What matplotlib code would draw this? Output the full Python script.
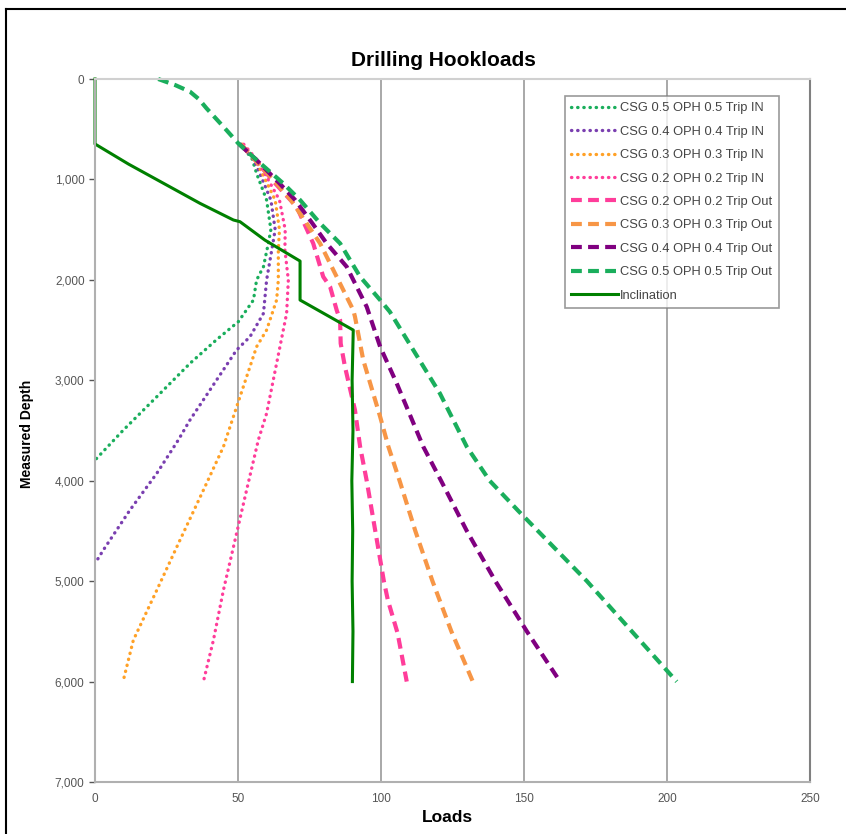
import matplotlib.pyplot as plt
from matplotlib import font_manager
from matplotlib.lines import Line2D
from matplotlib.ticker import FuncFormatter

plt.rcParams["font.family"] = ["Liberation Sans", "DejaVu Sans"]

# --- Hookload curves: depth (ft) and load values ---
# Trip in (dotted)
depth_in_05 = [650, 800, 940, 1205, 1500, 1637, 1869, 2002, 2201, 2417, 2596, 2832, 3164, 3496, 3795]
load_in_05 = [51, 55, 56.5, 60, 61.5, 60.6, 58.9, 56.5, 55.4, 50.1, 42.5, 33.2, 21.6, 9.9, 0]

depth_in_04 = [650, 800, 1000, 1205, 1500, 1703, 2002, 2334, 2566, 2699, 2998, 3396, 3596, 3927, 4293, 4691, 4824]
load_in_04 = [51, 55.5, 58.5, 61.5, 63, 61.8, 60, 58.9, 54.2, 49.5, 42.5, 33.2, 29.1, 21.6, 12.2, 2.9, 0]

depth_in_03 = [650, 800, 1000, 1205, 1500, 1703, 2002, 2201, 2500, 2666, 3164, 3662, 4094, 4592, 5090, 5588, 6000]
load_in_03 = [51.5, 56, 59.5, 63, 64.5, 64.1, 64.1, 63.5, 60, 56.5, 50.7, 44.9, 37.9, 29.7, 21.6, 13.4, 9.8]

depth_in_02 = [650, 800, 1000, 1205, 1500, 1703, 2002, 2334, 2832, 3330, 3596, 4094, 4525, 5090, 5588, 6000]
load_in_02 = [52, 56.5, 60.5, 64.5, 66.5, 66.4, 67.6, 67, 63.5, 60, 57.1, 53, 49.5, 44.9, 41.4, 37.9]

# Trip out (dashed)
depth_out_02 = [650, 807, 1039, 1272, 1637, 1969, 2068, 2301, 2400, 2633, 2865, 3297, 3662, 4000, 4500, 5000, 5189, 5518, 6000]
load_out_02 = [51, 56, 63, 70.5, 76.3, 79.8, 82.2, 84.5, 85.7, 85.9, 87.4, 90.9, 92.7, 95, 98, 101, 102.4, 105.8, 109]

depth_out_03 = [650, 807, 1039, 1205, 1437, 1637, 1969, 2301, 2367, 2799, 3363, 3662, 4000, 4500, 5000, 5500, 6000]
load_out_03 = [51, 56, 63.5, 68.5, 74, 78.7, 84.5, 90.3, 90.9, 93.8, 99.7, 102.6, 106.5, 112, 118, 124.6, 132.1]

depth_out_04 = [650, 807, 1039, 1205, 1437, 1637, 1869, 2268, 2666, 3031, 3662, 4000, 4500, 5000, 5500, 6000]
load_out_04 = [50.5, 56.5, 64.5, 70, 76, 81, 88, 95, 99.7, 105.5, 114.8, 121, 130, 140, 151, 162.6]

depth_out_05 = [0, 60, 126, 200, 292, 475, 641, 807, 1039, 1205, 1437, 1637, 1969, 2201, 2318, 2699, 3131, 3662, 4000, 4300, 5000, 6000]
load_out_05 = [22.1, 28, 33.2, 36.3, 39, 44.9, 50.1, 56.5, 65.8, 71.7, 78.7, 85.7, 92.7, 99.7, 103.1, 111.3, 120.6, 130, 138, 148, 172, 203.4]

# Inclination
depth_inc = [0, 647, 847, 1238, 1404, 1421, 1604, 1813, 2201, 2500, 3000, 3500, 4000, 4500, 5000, 5500, 6000]
load_inc = [0, 0, 11.7, 36.7, 48.4, 50.7, 59.4, 71.7, 71.7, 90.3, 89.9, 90.2, 89.8, 90.1, 89.9, 90.2, 90.0]

series = [
    ("CSG 0.5 OPH 0.5 Trip IN", load_in_05, depth_in_05, "#1aae5c", "dot"),
    ("CSG 0.4 OPH 0.4 Trip IN", load_in_04, depth_in_04, "#7a3fb0", "dot"),
    ("CSG 0.3 OPH 0.3 Trip IN", load_in_03, depth_in_03, "#ffa126", "dot"),
    ("CSG 0.2 OPH 0.2 Trip IN", load_in_02, depth_in_02, "#ff3d9a", "dot"),
    ("CSG 0.2 OPH 0.2 Trip Out", load_out_02, depth_out_02, "#ff3d9a", "dash"),
    ("CSG 0.3 OPH 0.3 Trip Out", load_out_03, depth_out_03, "#f79646", "dash"),
    ("CSG 0.4 OPH 0.4 Trip Out", load_out_04, depth_out_04, "#800080", "dash"),
    ("CSG 0.5 OPH 0.5 Trip Out", load_out_05, depth_out_05, "#1aae5c", "dash"),
]

fig = plt.figure(figsize=(8.46, 8.34), dpi=100)
ax = fig.add_axes([95 / 846, 1 - 782 / 834, 715 / 846, 703 / 834])

for label, x, y, color, kind in series:
    if kind == "dot":
        ax.plot(x, y, color=color, linewidth=2.4, linestyle=(0, (0.1, 1.75)),
                dash_capstyle="round", label=label, clip_on=False)
    else:
        ax.plot(x, y, color=color, linewidth=3.0, linestyle=(0, (2.6, 1.5)),
                label=label, clip_on=False)

ax.plot(load_inc, depth_inc, color="#008000", linewidth=2.2, label="Inclination",
        clip_on=False)

ax.set_xlim(0, 250)
ax.set_ylim(7000, 0)
ax.set_xticks([0, 50, 100, 150, 200, 250])
ax.set_yticks(range(0, 7001, 1000))
ax.yaxis.set_major_formatter(FuncFormatter(lambda v, p: f"{int(v):,}"))
ax.tick_params(axis="both", labelsize=8.5, colors="#555555", length=4, width=1)
ax.tick_params(axis="x", length=0, pad=8)
ax.grid(axis="x", color="#9a9a9a", linewidth=1.2)
ax.set_axisbelow(True)

for side in ["left", "bottom"]:
    ax.spines[side].set_color("#b0b0b0")
    ax.spines[side].set_linewidth(1.5)
ax.spines["top"].set_color("#d0d0d0")
ax.spines["top"].set_linewidth(1.5)
ax.spines["right"].set_color("#808080")
ax.spines["right"].set_linewidth(1.5)

leg = ax.legend(loc="upper left", bbox_to_anchor=(0.657, 0.976), fontsize=9.3,
                frameon=True, fancybox=False, edgecolor="#808080",
                labelspacing=0.88, handlelength=3.6, handletextpad=0.2,
                borderpad=0.5, borderaxespad=0)
for t in leg.get_texts():
    t.set_color("#444444")
leg.get_frame().set_linewidth(1.2)

# condensed face for the vertical axis title when available
names = {f.name for f in font_manager.fontManager.ttflist}
ylab_family = ["Liberation Sans Narrow"] if "Liberation Sans Narrow" in names else ["Liberation Sans"]
ylab_size = 12 if "Liberation Sans Narrow" in names else 10

fig.text(443 / 846, 1 - 61 / 834, "Drilling Hookloads", ha="center", va="center",
         fontsize=15, fontweight="bold")
fig.text(447 / 846, 1 - 817 / 834, "Loads", ha="center", va="center",
         fontsize=12.5, fontweight="bold")
fig.text(27 / 846, 1 - 434 / 834, "Measured Depth", ha="center", va="center",
         rotation=90, fontsize=ylab_size, fontweight="bold", family=ylab_family)

# outer frame (left and top edges)
fig.add_artist(Line2D([5.5 / 846, 5.5 / 846], [0, 1 - 9 / 834], color="black", linewidth=1.5))
fig.add_artist(Line2D([5.5 / 846, 1], [1 - 9 / 834, 1 - 9 / 834], color="black", linewidth=1.5))

plt.savefig("out.png", dpi=100)
